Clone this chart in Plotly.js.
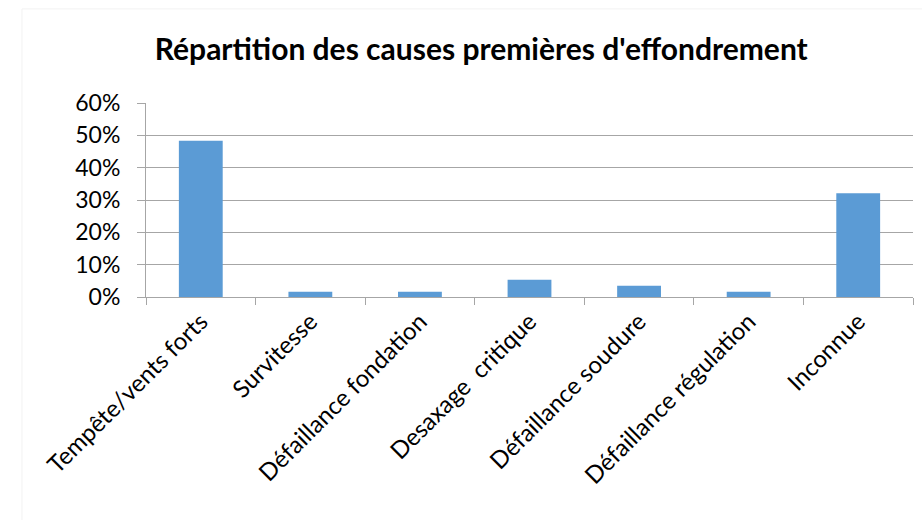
<!DOCTYPE html>
<html>
<head>
<meta charset="utf-8">
<script src="https://cdn.plot.ly/plotly-3.0.1.min.js"></script>
<style>html,body{margin:0;padding:0;background:#fff;}#chart{width:922px;height:520px;}</style>
</head>
<body>
<div id="chart"></div>
<script>
const categories = ["Tempête/vents forts", "Survitesse", "Défaillance fondation", "Desaxage  critique", "Défaillance soudure", "Défaillance régulation", "Inconnue"];
const shares = [0.483, 0.016, 0.016, 0.053, 0.035, 0.016, 0.321];
const yTickValues = [0, 0.1, 0.2, 0.3, 0.4, 0.5, 0.6];
const yTickLabels = ["0%", "10%", "20%", "30%", "40%", "50%", "60%"];
const titleText = "Répartition des causes premières d'effondrement";

const fontFamily = "Lato, 'Open Sans', sans-serif";

Plotly.newPlot("chart", [{
  type: "bar",
  x: categories,
  y: shares,
  marker: {color: "#5b9bd5", line: {width: 0}},
  hoverinfo: "skip"
}], {
  width: 922, height: 520, autosize: false,
  margin: {l: 146, r: 9, t: 103, b: 223, pad: 0},
  paper_bgcolor: "#fff", plot_bgcolor: "#fff",
  bargap: 0.6,
  showlegend: false,
  title: {text: "<b>" + titleText + "</b>", x: 0.522, xanchor: "center", y: 0.905, yanchor: "middle",
          font: {family: fontFamily, size: 30, color: "#000"}},
  xaxis: {
    type: "category",
    tickangle: -45,
    tickson: "boundaries",
    ticks: "outside", ticklen: 7, tickcolor: "#a6a6a6", tickwidth: 1,
    showline: true, linecolor: "#a6a6a6", linewidth: 1,
    showgrid: false,
    tickfont: {family: fontFamily, size: 24, color: "#000"},
    fixedrange: true
  },
  yaxis: {
    range: [0, 0.6],
    tickvals: yTickValues, ticktext: yTickLabels,
    ticks: "outside", ticklen: 8, tickcolor: "#a6a6a6",
    ticklabelstandoff: 12,
    showline: true, linecolor: "#a6a6a6", linewidth: 1,
    showgrid: true, gridcolor: "#a6a6a6", gridwidth: 1,
    zeroline: false,
    tickfont: {family: fontFamily, size: 23, color: "#000"},
    fixedrange: true
  },
  shapes: [{type: "rect", xref: "paper", yref: "paper", x0: -0.1617, x1: 1.1, y0: -1.3, y1: 1.485,
            line: {color: "#f2f2f2", width: 1}, layer: "below"}]
}, {displayModeBar: false, staticPlot: true});
</script>
</body>
</html>
